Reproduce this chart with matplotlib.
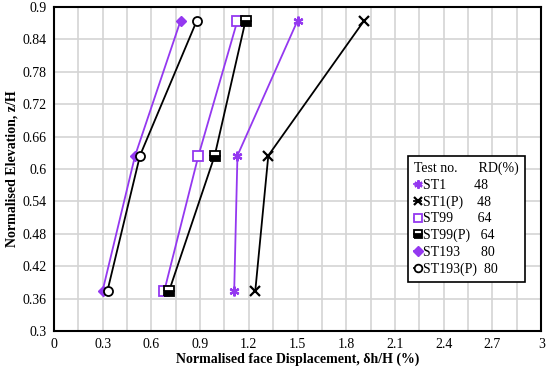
import numpy as np
import matplotlib.pyplot as plt
from matplotlib.ticker import MultipleLocator

plt.rcParams['font.family'] = ['Liberation Serif', 'DejaVu Serif']

# ---------- Data -------------------------------------------------------------------------------------------------------
elev = [0.375, 0.625, 0.875]                 # Normalised elevation z/H
st1 = [1.11, 1.13, 1.50]
st1_p = [1.24, 1.32, 1.91]
st99 = [0.68, 0.89, 1.13]
st99_p = [0.71, 0.99, 1.18]
st193 = [0.30, 0.50, 0.78]
st193_p = [0.33, 0.53, 0.88]

names = ['ST1', 'ST1(P)', 'ST99', 'ST99(P)', 'ST193', 'ST193(P)']
rd = [48, 48, 64, 64, 80, 80]
pad = ['        ', '    ', '       ', '   ', '      ', '  ']

purple = '#9438F0'
styles = [
    dict(color=purple, marker=(6, 2, 0), ms=7, mew=1.6),
    dict(color='black', marker='x', ms=7, mew=1.6),
    dict(color=purple, marker='s', ms=6.5, mfc='white', mew=1.3),
    dict(color='black', marker='s', ms=6.5, fillstyle='bottom', mfc='black', mfcalt='white', mew=1.3),
    dict(color=purple, marker='D', ms=5.5, mfc=purple, mew=1.0),
    dict(color='black', marker='o', ms=6.5, mfc='white', mew=1.3),
]
series = [st1, st1_p, st99, st99_p, st193, st193_p]

fig = plt.figure(figsize=(5.5, 3.72), dpi=100)
ax = fig.add_axes([0.098, 0.110, 0.886, 0.871])

for x, nm, r, p, st in zip(series, names, rd, pad, styles):
    ax.plot(x, elev, lw=1.3, label=nm + p + str(r), **st)

ax.set_xlim(0, 3)
ax.set_ylim(0.3, 0.9)
ax.xaxis.set_minor_locator(MultipleLocator(0.15))
ax.set_xticks(np.arange(0, 3.01, 0.3))
ax.set_xticklabels(['0', '0.3', '0.6', '0.9', '1.2', '1.5', '1.8', '2.1', '2.4', '2.7', '3'])
ax.set_yticks(np.arange(0.3, 0.901, 0.06))
ax.set_yticklabels(['0.3', '0.36', '0.42', '0.48', '0.54', '0.6', '0.66', '0.72', '0.78', '0.84', '0.9'])
ax.grid(True, which='both', axis='x', color='#d4d4d4', lw=1.2)
ax.grid(True, which='major', axis='y', color='#d4d4d4', lw=1.2)
ax.set_axisbelow(True)
ax.tick_params(which='both', length=0, labelsize=10, pad=5)
for s in ax.spines.values():
    s.set_linewidth(1.5)

ax.set_xlabel('Normalised face Displacement, δh/H (%)', fontsize=10, fontweight='bold', labelpad=1)
ax.set_ylabel('Normalised Elevation, z/H', fontsize=10, fontweight='bold', labelpad=3)

leg = ax.legend(title='Test no.      RD(%)', loc='lower right', bbox_to_anchor=(0.982, 0.13),
                fontsize=10, title_fontsize=10, handlelength=0.5, handletextpad=0.1,
                labelspacing=0.25, borderpad=0.45, fancybox=False, framealpha=1,
                edgecolor='black', alignment='left', markerscale=0.85)
leg.get_frame().set_linewidth(1.2)

fig.savefig('out.png', dpi=100)
